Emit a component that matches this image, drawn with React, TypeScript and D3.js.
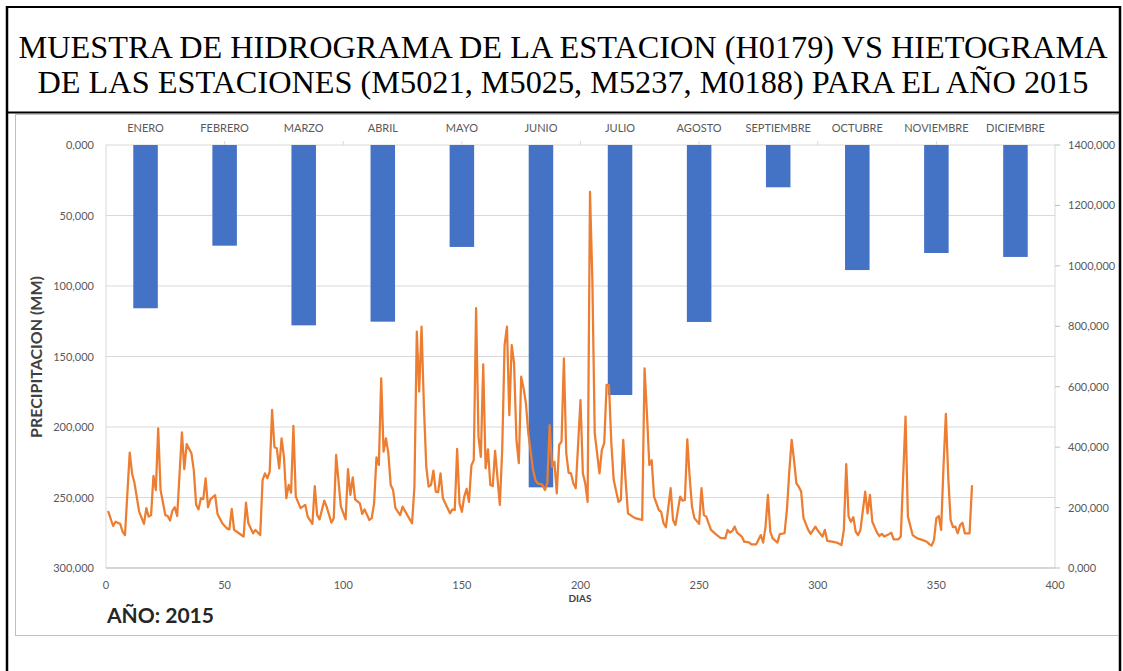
import React from 'react';
import * as d3 from 'd3';

const meses = ['ENERO','FEBRERO','MARZO','ABRIL','MAYO','JUNIO','JULIO','AGOSTO','SEPTIEMBRE','OCTUBRE','NOVIEMBRE','DICIEMBRE'];
const precipitacion = [115.8, 71.4, 127.9, 125.3, 72.3, 242.8, 177.3, 125.5, 30.0, 88.7, 76.6, 79.4];

const dias = [
1,3,4,6,7,8,10,11,12,14,
16,17,18,19,20,21,22,23,25,26,
27,28,29,30,32,33,34,36,37,38,
39,40,41,42,43,44,46,47,49,51,
52,53,54,56,58,59,60,62,63,65,
66,67,68,69,70,71,72,73,74,75,
76,77,78,79,80,82,84,85,87,88,
89,90,92,93,95,96,97,99,101,102,
103,104,105,107,108,109,111,112,113,114,
115,116,117,118,119,120,121,122,124,125,
127,129,130,131,132,133,134,135,136,137,
138,139,140,141,142,144,145,146,147,148,
149,150,151,152,153,154,155,156,157,158,
159,160,161,162,163,164,166,167,168,169,
170,171,172,173,174,175,176,177,178,180,
181,182,184,185,186,187,188,189,190,191,
192,193,194,195,196,197,198,200,201,202,
203,204,205,206,208,209,210,211,212,213,
214,216,217,218,219,220,222,223,226,227,
228,229,230,231,233,234,235,236,238,239,
240,242,243,244,245,246,247,248,250,251,
252,253,254,255,257,259,261,262,263,264,
265,266,268,269,271,272,274,276,277,278,
279,280,281,283,284,286,287,288,289,290,
291,292,293,294,296,297,299,300,302,303,
304,306,308,310,311,312,313,314,315,316,
317,318,320,321,322,323,325,326,327,328,
330,331,332,334,335,336,337,338,340,342,
344,346,347,348,349,350,351,352,353,354,
355,356,357,358,359,360,361,362,363,364,
365];

const caudal = [
186,139,153,146,120,109,382,313,281,186,
146,198,170,175,305,258,462,258,175,172,
157,190,201,172,449,327,410,380,324,209,
194,231,228,297,201,227,241,179,148,131,
128,196,126,115,104,216,148,115,126,109,
291,313,297,319,523,400,396,330,429,368,
231,275,249,470,236,198,209,170,146,271,
175,161,223,203,150,165,374,203,161,327,
242,300,227,214,179,194,159,165,214,366,
341,628,385,429,380,275,258,198,175,203,
175,148,269,782,584,799,534,335,269,275,
322,253,251,313,231,198,181,194,192,394,
214,186,236,262,219,339,357,860,435,368,
674,330,393,275,271,388,209,391,738,799,
506,738,678,424,347,633,595,545,446,324,
291,280,275,258,280,473,335,352,247,407,
418,694,380,315,313,280,264,556,313,280,
219,1245,953,446,313,391,413,606,606,413,
291,219,225,424,291,181,170,165,159,661,
512,341,357,236,192,186,148,135,264,159,
142,236,223,225,426,302,203,165,146,264,
175,170,148,126,112,100,98,126,117,123,
137,117,104,87,85,78,78,109,84,137,
242,120,98,84,112,115,192,319,424,357,
280,269,253,165,126,113,137,124,104,126,
90,87,84,76,126,344,170,153,168,120,
109,126,253,181,242,153,117,106,113,104,
112,117,95,95,104,302,501,170,109,98,
93,87,79,74,93,165,172,126,335,510,
302,159,135,137,115,142,150,115,115,115,
271];

const ticksIzq = [0, 50, 100, 150, 200, 250, 300];
const ticksDer = [0, 200, 400, 600, 800, 1000, 1200, 1400];
const ticksX = [0, 50, 100, 150, 200, 250, 300, 350, 400];
const titulo = [
  'MUESTRA DE HIDROGRAMA DE LA ESTACION (H0179) VS HIETOGRAMA',
  'DE LAS ESTACIONES (M5021, M5025, M5237, M0188) PARA EL AÑO 2015',
];

const fmt = (v: number) => v.toFixed(3).replace('.', ',');

export default function App() {
  const W = 1123, H = 671;
  const left = 106, right = 1055, top = 145, bottom = 568;
  const x = d3.scaleLinear().domain([0, 400]).range([left, right]);
  const yL = d3.scaleLinear().domain([0, 300]).range([top, bottom]);
  const yR = d3.scaleLinear().domain([0, 1400]).range([bottom, top]);
  const xb = d3.scaleBand<string>().domain(meses).range([left, right]).paddingInner(0.69).paddingOuter(0.345);
  const serie = dias.map((d, i) => ({ d, q: caudal[i] }));
  const linea = d3.line<{ d: number; q: number }>().x(p => x(p.d)).y(p => yR(p.q));
  const font = 'Lato, "Open Sans", sans-serif';
  const gris = '#595959';

  return (
    <svg width={W} height={H} style={{ position: 'absolute', left: 0, top: 0, background: '#fff' }}>
      <rect x={0} y={0} width={W} height={H} fill="#fff" />
      {/* table borders */}
      <line x1={7} y1={7} x2={1120} y2={7} stroke="#000" strokeWidth={2} />
      <line x1={7} y1={6} x2={7} y2={671} stroke="#000" strokeWidth={2.5} />
      <line x1={1120} y1={6} x2={1120} y2={671} stroke="#000" strokeWidth={2.5} />
      <line x1={7} y1={112.5} x2={1120} y2={112.5} stroke="#000" strokeWidth={2} />
      {titulo.map((t, i) => (
        <text key={i} x={563} y={58 + i * 35} textAnchor="middle" fontFamily='"Liberation Serif", "Times New Roman", serif' fontSize={32.3} fill="#000">{t}</text>
      ))}
      {/* chart area */}
      <rect x={15.5} y={114.5} width={1103} height={521} fill="#fff" stroke="#bfbfbf" strokeWidth={1} />
      {/* gridlines */}
      {ticksIzq.map(t => (
        <line key={t} x1={left} x2={right} y1={yL(t)} y2={yL(t)} stroke="#d9d9d9" strokeWidth={1} />
      ))}
      <line x1={left} x2={left} y1={top} y2={bottom} stroke="#d9d9d9" />
      <line x1={right} x2={right} y1={top} y2={bottom} stroke="#d9d9d9" />
      <line x1={left} x2={right} y1={bottom} y2={bottom} stroke="#bfbfbf" />
      {ticksDer.map(t => (
        <line key={t} x1={right} x2={right + 5} y1={yR(t)} y2={yR(t)} stroke="#bfbfbf" />
      ))}
      {ticksX.slice(1, -1).map(t => (
        <line key={t} x1={x(t)} x2={x(t)} y1={top} y2={top - 4} stroke="#d9d9d9" />
      ))}
      {/* bars */}
      {meses.map((m, i) => (
        <rect key={m} x={xb(m)} y={yL(0)} width={xb.bandwidth()} height={yL(precipitacion[i]) - yL(0)} fill="#4472C4" />
      ))}
      {/* line */}
      <path d={linea(serie) || ''} fill="none" stroke="#ED7D31" strokeWidth={2.25} strokeLinejoin="round" strokeLinecap="round" />
      {/* axis labels */}
      {meses.map(m => (
        <text key={m} x={(xb(m) || 0) + xb.bandwidth() / 2} y={132} textAnchor="middle" fontFamily={font} fontSize={11} fill={gris}>{m}</text>
      ))}
      {ticksIzq.map(t => (
        <text key={t} x={94} y={yL(t) + 4} textAnchor="end" fontFamily={font} fontSize={11} fill={gris}>{fmt(t)}</text>
      ))}
      {ticksDer.map(t => (
        <text key={t} x={1068} y={yR(t) + 4} textAnchor="start" fontFamily={font} fontSize={11} fill={gris}>{fmt(t)}</text>
      ))}
      {ticksX.map(t => (
        <text key={t} x={x(t)} y={589} textAnchor="middle" fontFamily={font} fontSize={11} fill={gris}>{t}</text>
      ))}
      <text x={580} y={602} textAnchor="middle" fontFamily={font} fontSize={10} fontWeight="bold" fill="#404040">DIAS</text>
      <text transform={`translate(42,357) rotate(-90)`} textAnchor="middle" fontFamily={font} fontSize={16} fontWeight="bold" fill="#404040">PRECIPITACION (MM)</text>
      <text x={107} y={623} fontFamily={font} fontSize={21} fontWeight="bold" fill="#262626">AÑO: 2015</text>
    </svg>
  );
}
